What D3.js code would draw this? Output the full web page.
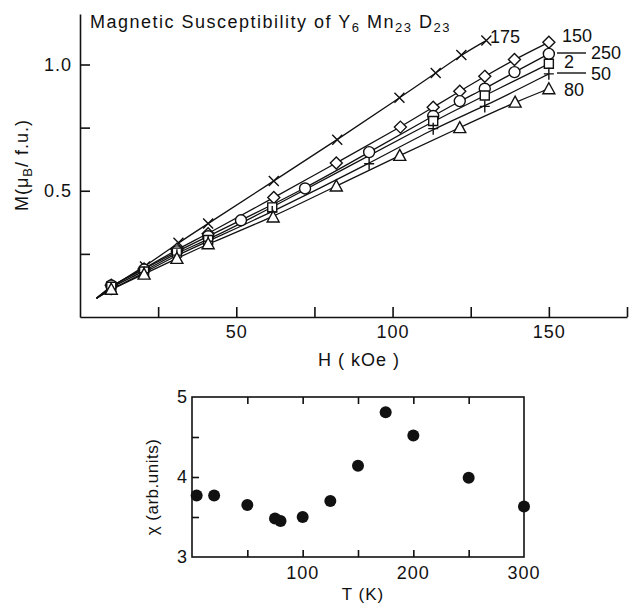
<!DOCTYPE html>
<html>
<head>
<meta charset="utf-8">
<script src="https://cdn.jsdelivr.net/npm/d3@7"></script>
<style>
  body { margin: 0; background: #fff; }
  svg { display: block; }
  text { font-family: "Liberation Sans", Arial, sans-serif; fill: #111; }
</style>
</head>
<body>
<div id="chart"></div>
<script>
// ---- top panel: M vs H at several temperatures ----
var fieldTicks = [25, 50, 75, 100, 125, 150, 175];
var fieldLabels = [50, 100, 150];
var momentTicks = [0.25, 0.5, 0.75, 1.0];
var momentLabels = [0.5, 1.0];

// common starting point where the fitted lines meet
var lineStart = [5.3, 0.074];

var h175 = [10, 20.8, 31.5, 41, 62, 82.3, 102.2, 113.8, 122, 130];
var m175 = [0.12, 0.20, 0.294, 0.37, 0.539, 0.702, 0.868, 0.966, 1.038, 1.095];

var h150 = [10, 20.5, 31, 41, 62, 82, 102.5, 113, 121.5, 129.5, 139, 150];
var m150 = [0.126, 0.19, 0.268, 0.33, 0.473, 0.61, 0.752, 0.831, 0.894, 0.953, 1.02, 1.088];

var h250 = [10, 20.5, 31, 41, 51.5, 72, 92.5, 113, 121.5, 129.5, 139, 150];
var m250 = [0.125, 0.188, 0.26, 0.32, 0.383, 0.509, 0.653, 0.796, 0.855, 0.904, 0.97, 1.042];

var h2 = [10, 20.5, 31, 41, 61.5, 113, 129.5, 150];
var m2 = [0.12, 0.18, 0.255, 0.305, 0.434, 0.776, 0.877, 1.003];

var h50 = [10, 20.5, 31, 41, 61.5, 92.5, 113, 129.5, 150];
var m50 = [0.11, 0.175, 0.245, 0.30, 0.416, 0.607, 0.746, 0.834, 0.963];

var h80 = [10, 20.5, 31, 41, 61.8, 82, 102.3, 121.5, 139.2, 150];
var m80 = [0.11, 0.17, 0.232, 0.29, 0.396, 0.519, 0.640, 0.750, 0.851, 0.904];

// ---- bottom panel: susceptibility vs T ----
var temps = [4.2, 20, 50, 75, 80, 100, 125, 150, 175, 200, 250, 300];
var chi = [3.77, 3.77, 3.65, 3.48, 3.45, 3.50, 3.70, 4.14, 4.81, 4.52, 3.99, 3.63];
var tempTicks = [50, 100, 150, 200, 250];
var tempLabels = [100, 200, 300];
var chiTicks = [3.5, 4, 4.5];
var chiLabels = [3, 4, 5];

var series = [
    { name: "175", h: h175, m: m175, symbol: "cross" },
    { name: "150", h: h150, m: m150, symbol: "diamond" },
    { name: "250", h: h250, m: m250, symbol: "circle" },
    { name: "2", h: h2, m: m2, symbol: "square" },
    { name: "50", h: h50, m: m50, symbol: "plus" },
    { name: "80", h: h80, m: m80, symbol: "triangle" }
];

var width = 637, height = 604;

var svg = d3.select("#chart").append("svg")
    .attr("width", width)
    .attr("height", height);

drawTop();
drawBottom();

function drawTop() {
    var x = d3.scaleLinear().domain([0, 175]).range([80, 627]);
    var y = d3.scaleLinear().domain([0, 1.2]).range([317, 14]);

    var g = svg.append("g");

    var yAxis = d3.axisLeft(y)
        .tickValues(momentTicks)
        .tickSizeInner(-10)
        .tickSizeOuter(0)
        .tickPadding(8)
        .tickFormat(function (d) {
            return momentLabels.indexOf(d) >= 0 ? d3.format(".1f")(d) : "";
        });

    var xAxis = d3.axisBottom(x)
        .tickValues(fieldTicks)
        .tickSizeInner(-10)
        .tickSizeOuter(0)
        .tickPadding(8)
        .tickFormat(function (d) {
            return fieldLabels.indexOf(d) >= 0 ? d : "";
        });

    var gy = g.append("g")
        .attr("transform", "translate(80,0)")
        .call(yAxis);
    var gx = g.append("g")
        .attr("transform", "translate(0,317)")
        .call(xAxis);

    [gx, gy].forEach(function (a) {
        a.select(".domain").attr("stroke", "#111").attr("stroke-width", 1.6);
        a.selectAll(".tick line").attr("stroke", "#111").attr("stroke-width", 1.6);
        a.selectAll(".tick text")
            .attr("font-family", "Liberation Sans, Arial, sans-serif")
            .attr("font-size", 18)
            .attr("letter-spacing", 1)
            .attr("fill", "#111");
    });

    // lines
    var line = d3.line()
        .x(function (d) { return x(d[0]); })
        .y(function (d) { return y(d[1]); })
        .curve(d3.curveBasis);

    series.forEach(function (s) {
        var pts = [lineStart].concat(s.h.map(function (h, i) { return [h, s.m[i]]; }));
        g.append("path")
            .attr("d", line(pts))
            .attr("fill", "none")
            .attr("stroke", "#111")
            .attr("stroke-width", 1.3);
    });

    // markers
    series.forEach(function (s) {
        var pts = s.h.map(function (h, i) { return [h, s.m[i]]; });
        g.selectAll(null)
            .data(pts)
            .enter()
            .append("path")
            .attr("transform", function (d) {
                return "translate(" + x(d[0]) + "," + y(d[1]) + ")";
            })
            .attr("d", markerPath(s.symbol))
            .attr("fill", (s.symbol == "cross" || s.symbol == "plus") ? "none" : "#fff")
            .attr("stroke", "#111")
            .attr("stroke-width", 1.4);
    });

    // series labels
    g.append("text").attr("x", 490).attr("y", 43).attr("font-size", 18).text("175");
    g.append("text").attr("x", 562).attr("y", 42).attr("font-size", 18).text("150");
    g.append("line").attr("x1", 557).attr("x2", 586).attr("y1", 53).attr("y2", 53)
        .attr("stroke", "#111").attr("stroke-width", 1.4);
    g.append("text").attr("x", 591).attr("y", 59).attr("font-size", 18).text("250");
    g.append("text").attr("x", 564).attr("y", 68).attr("font-size", 18).text("2");
    g.append("line").attr("x1", 557).attr("x2", 586).attr("y1", 73).attr("y2", 73)
        .attr("stroke", "#111").attr("stroke-width", 1.4);
    g.append("text").attr("x", 591).attr("y", 80).attr("font-size", 18).text("50");
    g.append("text").attr("x", 564).attr("y", 96).attr("font-size", 18).text("80");

    // title
    var title = g.append("text")
        .attr("x", 90)
        .attr("y", 28)
        .attr("font-size", 18)
        .attr("letter-spacing", 1.5);
    title.append("tspan").text("Magnetic Susceptibility of  Y");
    title.append("tspan").attr("font-size", 13).attr("dy", 4).text("6");
    title.append("tspan").attr("dy", -4).text(" Mn");
    title.append("tspan").attr("font-size", 13).attr("dy", 4).text("23");
    title.append("tspan").attr("dy", -4).text(" D");
    title.append("tspan").attr("font-size", 13).attr("dy", 4).text("23");

    // axis titles
    var yt = g.append("text")
        .attr("transform", "translate(28,165) rotate(-90)")
        .attr("text-anchor", "middle")
        .attr("font-size", 18)
        .attr("letter-spacing", 1);
    yt.append("tspan").text("M(μ");
    yt.append("tspan").attr("font-size", 13).attr("dy", 4).text("B");
    yt.append("tspan").attr("dy", -4).text("/ f.u.)");

    g.append("text")
        .attr("x", 359)
        .attr("y", 366)
        .attr("text-anchor", "middle")
        .attr("font-size", 18)
        .attr("letter-spacing", 1)
        .text("H ( kOe )");
}

function markerPath(kind) {
    var p = d3.path();
    if (kind == "cross") {
        p.moveTo(-5, -5); p.lineTo(5, 5);
        p.moveTo(-5, 5); p.lineTo(5, -5);
    } else if (kind == "plus") {
        p.moveTo(-5, 0); p.lineTo(5, 0);
        p.moveTo(0, -6); p.lineTo(0, 6);
    } else if (kind == "diamond") {
        p.moveTo(0, -6); p.lineTo(6, 0); p.lineTo(0, 6); p.lineTo(-6, 0); p.closePath();
    } else if (kind == "circle") {
        p.arc(0, 0, 5.5, 0, 2 * Math.PI);
    } else if (kind == "square") {
        p.rect(-4.5, -4.5, 9, 9);
    } else if (kind == "triangle") {
        p.moveTo(0, -6); p.lineTo(6, 5); p.lineTo(-6, 5); p.closePath();
    }
    return p.toString();
}

function drawBottom() {
    var x = d3.scaleLinear().domain([0, 300]).range([192, 524]);
    var y = d3.scaleLinear().domain([3, 5]).range([557, 397]);

    var g = svg.append("g");

    g.append("rect")
        .attr("x", x(0))
        .attr("y", y(5))
        .attr("width", x(300) - x(0))
        .attr("height", y(3) - y(5))
        .attr("fill", "none")
        .attr("stroke", "#111")
        .attr("stroke-width", 1.6);

    // ticks on bottom and top pointing inward
    var xb = d3.axisBottom(x).tickValues(tempTicks).tickSizeInner(-7).tickSizeOuter(0).tickFormat("");
    var xt = d3.axisTop(x).tickValues(tempTicks).tickSizeInner(-7).tickSizeOuter(0).tickFormat("");
    var yl = d3.axisLeft(y).tickValues(chiTicks).tickSizeInner(-7).tickSizeOuter(0).tickFormat("");

    var axes = [
        g.append("g").attr("transform", "translate(0," + y(3) + ")").call(xb),
        g.append("g").attr("transform", "translate(0," + y(5) + ")").call(xt),
        g.append("g").attr("transform", "translate(" + x(0) + ",0)").call(yl)
    ];
    axes.forEach(function (a) {
        a.select(".domain").remove();
        a.selectAll(".tick line").attr("stroke", "#111").attr("stroke-width", 1.6);
    });

    // tick labels
    g.selectAll(".xlab")
        .data(tempLabels)
        .enter()
        .append("text")
        .attr("x", function (d) { return x(d); })
        .attr("y", 579)
        .attr("text-anchor", "middle")
        .attr("font-size", 18)
        .attr("letter-spacing", 1)
        .text(function (d) { return d; });

    g.selectAll(".ylab")
        .data(chiLabels)
        .enter()
        .append("text")
        .attr("x", 187)
        .attr("y", function (d) { return y(d); })
        .attr("dy", "0.36em")
        .attr("text-anchor", "end")
        .attr("font-size", 18)
        .text(function (d) { return d; });

    // points
    g.selectAll(".pt")
        .data(temps)
        .enter()
        .append("circle")
        .attr("cx", function (d) { return x(d); })
        .attr("cy", function (d, i) { return y(chi[i]); })
        .attr("r", 6)
        .attr("fill", "#111");

    g.append("text")
        .attr("transform", "translate(158,487) rotate(-90)")
        .attr("text-anchor", "middle")
        .attr("font-size", 17)
        .attr("letter-spacing", 0.5)
        .text("χ (arb.units)");

    g.append("text")
        .attr("x", 363)
        .attr("y", 600)
        .attr("text-anchor", "middle")
        .attr("font-size", 17)
        .attr("letter-spacing", 1)
        .text("T (K)");
}
</script>
</body>
</html>
